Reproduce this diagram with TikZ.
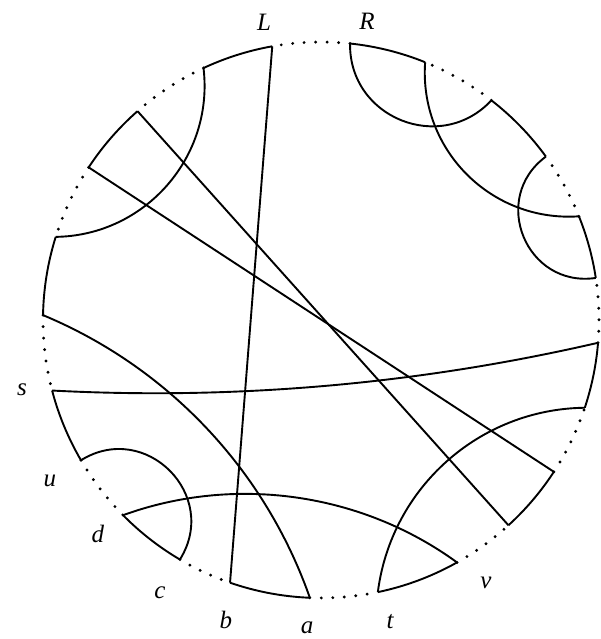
\documentclass[tikz,border=0pt]{standalone}
\usepackage{fontspec}
\setmainfont{Liberation Serif}
\begin{document}
\begin{tikzpicture}[x=1pt,y=1pt,
  geo/.style={line width=1.9pt, black},
  bound/.style={line width=1.9pt, black},
  dots/.style={line width=3.2pt, black, line cap=round, dash pattern=on 0pt off 11.5pt},
  lab/.style={font=\fontsize{25}{29}\selectfont\itshape, inner sep=0pt}]
\useasboundingbox (-321,-319) rectangle (279,320);
% boundary points
\coordinate (q1) at (100.1:278);
\coordinate (q2) at (115.0:278);
\coordinate (q3) at (131.3:278);
\coordinate (q4) at (146.7:278);
\coordinate (q5) at (162.6:278);
\coordinate (q6) at (179.0:278);
\coordinate (q7) at (194.7:278);
\coordinate (q8) at (210.3:278);
\coordinate (q9) at (224.6:278);
\coordinate (q10) at (239.5:278);
\coordinate (q11) at (250.9:278);
\coordinate (q12) at (267.7:278);
\coordinate (q13) at (281.8:278);
\coordinate (q14) at (299.3:278);
\coordinate (q15) at (312.4:278);
\coordinate (q16) at (326.9:278);
\coordinate (q17) at (341.6:278);
\coordinate (q18) at (355.3:278);
\coordinate (q19) at (8.7:278);
\coordinate (q20) at (21.9:278);
\coordinate (q21) at (36.0:278);
\coordinate (q22) at (52.2:278);
\coordinate (q23) at (68.0:278);
\coordinate (q24) at (84.0:278);
% solid boundary arcs
\draw[bound] (q1) arc[start angle=100.1, end angle=115.0, radius=278];
\draw[bound] (q3) arc[start angle=131.3, end angle=146.7, radius=278];
\draw[bound] (q5) arc[start angle=162.6, end angle=179.0, radius=278];
\draw[bound] (q7) arc[start angle=194.7, end angle=210.3, radius=278];
\draw[bound] (q9) arc[start angle=224.6, end angle=239.5, radius=278];
\draw[bound] (q11) arc[start angle=250.9, end angle=267.7, radius=278];
\draw[bound] (q13) arc[start angle=281.8, end angle=299.3, radius=278];
\draw[bound] (q15) arc[start angle=312.4, end angle=326.9, radius=278];
\draw[bound] (q17) arc[start angle=341.6, end angle=355.3, radius=278];
\draw[bound] (q19) arc[start angle=8.7, end angle=21.9, radius=278];
\draw[bound] (q21) arc[start angle=36.0, end angle=52.2, radius=278];
\draw[bound] (q23) arc[start angle=68.0, end angle=84.0, radius=278];
% dotted boundary arcs
\draw[dots] (q2) arc[start angle=115.0, end angle=131.3, radius=278];
\draw[dots] (q4) arc[start angle=146.7, end angle=162.6, radius=278];
\draw[dots] (q6) arc[start angle=179.0, end angle=194.7, radius=278];
\draw[dots] (q8) arc[start angle=210.3, end angle=224.6, radius=278];
\draw[dots] (q10) arc[start angle=239.5, end angle=250.9, radius=278];
\draw[dots] (q12) arc[start angle=267.7, end angle=281.8, radius=278];
\draw[dots] (q14) arc[start angle=299.3, end angle=312.4, radius=278];
\draw[dots] (q16) arc[start angle=326.9, end angle=341.6, radius=278];
\draw[dots] (q18) arc[start angle=355.3, end angle=368.7, radius=278];
\draw[dots] (q20) arc[start angle=21.9, end angle=36.0, radius=278];
\draw[dots] (q22) arc[start angle=52.2, end angle=68.0, radius=278];
\draw[dots] (q24) arc[start angle=84.0, end angle=100.1, radius=278];
% chords
\draw[geo] (q2) to[bend left=48, looseness=1.02] (q5);
\draw[geo] (q3) -- (q15);
\draw[geo] (q4) -- (q16);
\draw[geo] (q6) to[bend left=24, looseness=0.89] (q12);
\draw[geo] (q1) -- (q11);
\draw[geo] (q7) to[bend right=8, looseness=0.86] (q18);
\draw[geo] (q8) to[bend left=77, looseness=1.39] (q10);
\draw[geo] (q9) to[bend left=28, looseness=0.90] (q14);
\draw[geo] (q13) to[bend left=41, looseness=0.97] (q17);
\draw[geo] (q22) to[bend left=69, looseness=1.25] (q24);
\draw[geo] (q20) to[bend left=49, looseness=1.03] (q23);
\draw[geo] (q19) to[bend left=76, looseness=1.37] (q21);
% labels
\node[lab] (lL) at (-57,298) {L};
\node[lab] (lR) at (46,299) {R};
\node[lab] (ls) at (-299,-70) {s};
\node[lab] (lu) at (-271,-161) {u};
\node[lab] (ld) at (-223,-214) {d};
\node[lab] (lc) at (-161,-273) {c};
\node[lab] (lb) at (-95,-300) {b};
\node[lab] (la) at (-14,-308) {a};
\node[lab] (lt) at (69,-302) {t};
\node[lab] (lv) at (165,-263) {v};
\end{tikzpicture}
\end{document}
